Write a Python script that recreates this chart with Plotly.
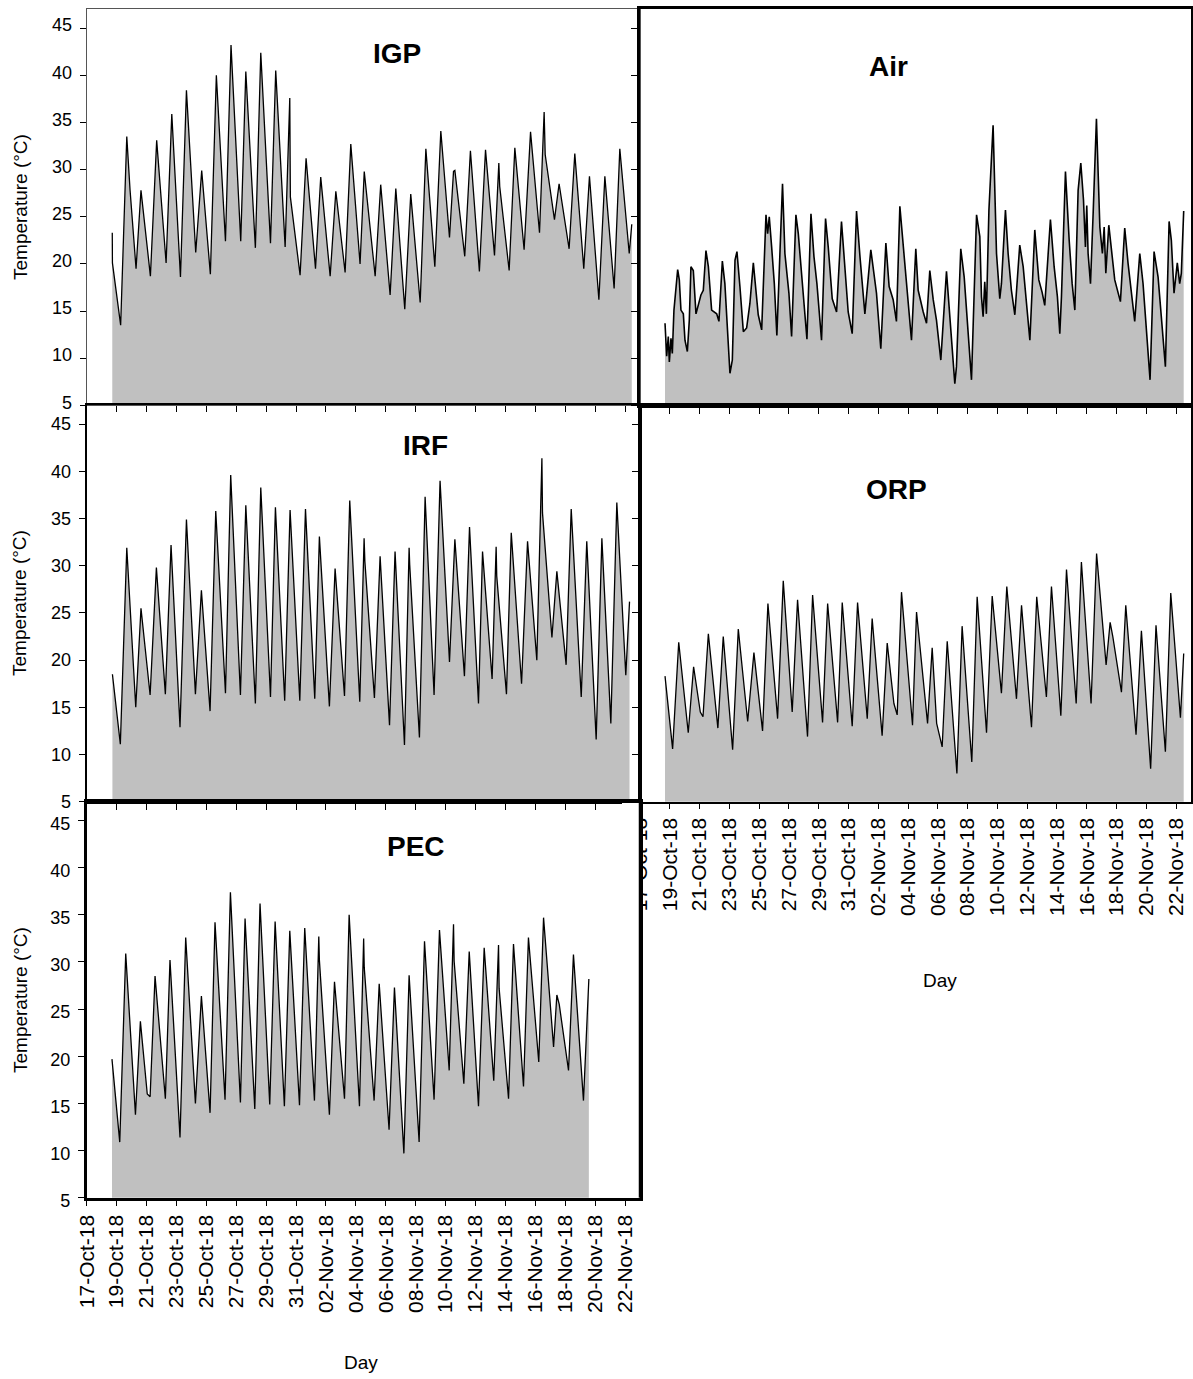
import pandas as pd
import plotly.graph_objects as go

# ---------------------------------------------------------------------------
# Hourly temperature records, 18 Oct - 22 Nov 2018.
# Times are given in days since 17-Oct-2018 00:00, values in degC.
# ---------------------------------------------------------------------------
START = pd.Timestamp("2018-10-17")

igp_day = [1.71, 1.72, 2.27, 2.68, 2.90, 3.30, 3.63, 4.26, 4.68, 5.31, 5.69, 6.27, 6.67, 7.29,
           7.69, 8.27, 8.67, 9.28, 9.65, 10.30, 10.64, 11.28, 11.64, 12.29, 12.64, 13.27, 13.58,
           13.62, 14.27, 14.67, 15.30, 15.65, 16.28, 16.66, 17.28, 17.66, 18.28, 18.56, 18.62,
           19.29, 19.66, 20.29, 20.67, 21.27, 21.67, 22.30, 22.68, 23.28, 23.68, 24.26, 24.53,
           24.62, 25.28, 25.66, 26.26, 26.67, 27.27, 27.56, 27.62, 28.25, 28.63, 29.25, 29.68,
           30.28, 30.59, 30.66, 31.28, 31.59, 32.26, 32.64, 33.24, 33.62, 34.25, 34.65, 35.27,
           35.65, 36.28, 36.45]
igp_temp = [23.3, 20.1, 13.5, 33.5, 27.8, 19.5, 27.8, 18.7, 33.1, 20.1, 35.9, 18.6, 38.4, 21.2,
            29.9, 18.9, 40.0, 22.4, 43.2, 22.4, 40.4, 21.7, 42.4, 22.2, 40.5, 21.8, 37.6,
            27.1, 18.8, 31.2, 19.5, 29.2, 18.7, 27.7, 19.1, 32.7, 20.0, 29.8, 28.9,
            18.7, 28.4, 16.7, 28.0, 15.2, 27.4, 15.9, 32.2, 19.7, 34.1, 22.8, 29.8,
            29.9, 20.8, 32.0, 19.2, 32.1, 20.9, 30.7, 28.2, 19.3, 32.3, 21.5, 34.0,
            23.3, 36.1, 31.6, 24.7, 28.5, 21.6, 31.7, 19.5, 29.3, 16.2, 29.3, 17.4,
            32.2, 21.1, 24.2]

air_day = [1.68, 1.79, 1.90, 1.97, 2.08, 2.17, 2.28, 2.53, 2.64, 2.75, 2.91, 3.02, 3.18, 3.31,
           3.42, 3.58, 3.76, 3.92, 4.09, 4.25, 4.43, 4.59, 4.81, 5.15, 5.30, 5.53, 5.70, 6.04,
           6.20, 6.38, 6.51, 6.71, 6.94, 7.16, 7.38, 7.61, 7.76, 7.94, 8.17, 8.46, 8.57, 8.68,
           8.84, 9.02, 9.19, 9.35, 9.57, 9.73, 9.89, 10.00, 10.18, 10.47, 10.63, 10.85, 11.21,
           11.48, 11.68, 11.88, 12.19, 12.46, 12.64, 12.91, 13.20, 13.53, 13.76, 13.98, 14.25,
           14.54, 14.77, 15.10, 15.50, 15.61, 15.88, 16.17, 16.51, 16.73, 17.00, 17.22, 17.45,
           17.74, 17.96, 18.23, 18.52, 18.68, 19.02, 19.24, 19.46, 19.69, 19.91, 20.20, 20.58,
           20.87, 21.14, 21.25, 21.54, 21.77, 22.04, 22.26, 22.60, 22.82, 22.93, 23.04, 23.15,
           23.26, 23.43, 23.71, 23.94, 24.16, 24.27, 24.54, 24.72, 24.94, 25.17, 25.50, 25.73,
           26.18, 26.51, 26.78, 27.00, 27.18, 27.56, 27.81, 28.03, 28.19, 28.30, 28.57, 28.82,
           29.02, 29.20, 29.42, 29.60, 29.78, 29.91, 30.00, 30.09, 30.25, 30.43, 30.65, 30.88,
           31.05, 31.17, 31.28, 31.48, 31.70, 31.88, 32.26, 32.55, 32.77, 33.22, 33.56, 33.78,
           34.25, 34.52, 34.79, 35.01, 35.28, 35.53, 35.68, 35.86, 36.08, 36.24, 36.35, 36.51]
air_temp = [13.7, 10.2, 12.3, 9.6, 12.1, 10.5, 15.1, 19.4, 18.3, 15.1, 14.7, 11.9, 10.7, 14.0,
            19.7, 19.3, 14.7, 15.6, 16.7, 17.2, 21.4, 19.7, 15.1, 14.7, 13.9, 20.3, 17.9, 8.4,
            9.8, 20.4, 21.3, 17.6, 12.8, 13.2, 15.8, 20.1, 17.2, 14.6, 13.0, 25.2, 23.2, 25.0,
            21.8, 17.9, 12.4, 20.1, 28.5, 21.1, 18.3, 16.9, 12.3, 25.2, 23.2, 18.6, 12.0,
            25.3, 20.8, 17.9, 11.9, 24.8, 21.8, 16.3, 14.9, 24.5, 19.7, 14.9, 12.6,
            25.6, 20.8, 14.7, 21.5, 20.1, 16.9, 11.0, 22.2, 17.6, 16.2, 13.9, 26.1,
            20.8, 16.9, 11.9, 21.6, 17.2, 14.9, 13.7, 19.3, 16.2, 14.0, 9.8, 19.2,
            13.3, 7.3, 9.1, 21.6, 18.6, 12.6, 7.7, 25.2, 22.9, 16.5, 14.4, 18.1,
            14.7, 25.7, 34.7, 21.1, 16.3, 17.9, 25.7, 21.1, 17.2, 14.6, 22.0, 19.7,
            11.9, 23.6, 18.3, 17.0, 15.6, 24.7, 19.7, 16.5, 12.6, 16.5, 29.8, 22.5,
            17.9, 15.1, 27.8, 30.7, 26.8, 21.8, 26.2, 21.1, 17.9, 25.4, 35.4, 23.9,
            21.1, 23.9, 19.0, 24.1, 21.1, 18.3, 16.0, 23.8, 20.1, 13.9, 21.1, 17.9,
            7.7, 21.3, 18.6, 14.4, 9.1, 24.5, 22.5, 16.9, 20.1, 17.9, 19.0, 25.6]

irf_day = [1.72, 2.25, 2.68, 3.28, 3.63, 4.24, 4.66, 5.26, 5.64, 6.24, 6.67, 7.27, 7.67, 8.25,
           8.63, 9.28, 9.63, 10.28, 10.64, 11.28, 11.64, 12.29, 12.62, 13.24, 13.60, 14.25,
           14.63, 15.25, 15.56, 16.23, 16.61, 17.24, 17.59, 18.26, 18.55, 18.60, 19.24, 19.62,
           20.25, 20.62, 21.25, 21.56, 21.60, 22.25, 22.63, 23.23, 23.63, 24.26, 24.62, 25.26,
           25.60, 26.20, 26.47, 27.11, 27.38, 27.42, 28.07, 28.39, 29.08, 29.48, 30.10, 30.44,
           30.48, 31.11, 31.44, 32.06, 32.40, 33.07, 33.44, 34.07, 34.45, 35.05, 35.45, 36.05,
           36.30]
irf_temp = [18.5, 11.1, 31.9, 15.0, 25.5, 16.3, 29.8, 16.4, 32.2, 12.9, 34.9, 16.4, 27.4, 14.6,
            35.8, 16.5, 39.6, 16.3, 36.4, 15.4, 38.3, 16.1, 36.2, 15.7, 35.9, 15.7,
            36.0, 15.9, 33.1, 15.1, 29.7, 16.2, 36.9, 15.6, 32.9, 30.5, 16.0, 31.0,
            13.1, 31.5, 11.0, 31.9, 30.1, 11.8, 37.3, 16.3, 39.0, 19.8, 32.8, 18.3,
            34.1, 15.4, 31.5, 18.0, 32.0, 28.9, 16.4, 33.5, 17.5, 32.6, 20.0, 41.4,
            35.6, 22.4, 29.4, 19.5, 36.0, 16.1, 32.6, 11.6, 32.9, 13.3, 36.7, 18.4,
            26.2]

orp_day = [1.68, 2.19, 2.60, 3.24, 3.60, 4.05, 4.23, 4.59, 5.23, 5.59, 6.22, 6.60, 7.23, 7.65,
           8.23, 8.59, 9.24, 9.62, 10.22, 10.58, 11.25, 11.59, 12.26, 12.60, 13.27, 13.58,
           14.25, 14.61, 15.26, 15.59, 16.26, 16.60, 17.05, 17.27, 17.56, 18.30, 18.57, 19.31,
           19.62, 19.92, 20.29, 20.63, 21.28, 21.63, 22.28, 22.64, 23.27, 23.65, 24.27, 24.63,
           25.28, 25.62, 26.29, 26.64, 27.29, 27.63, 28.26, 28.64, 29.29, 29.64, 30.29, 30.66,
           31.30, 31.57, 31.75, 32.33, 32.62, 33.31, 33.67, 34.29, 34.65, 35.28, 35.64, 36.29,
           36.51]
orp_temp = [18.3, 10.6, 21.9, 12.3, 19.3, 14.5, 14.0, 22.8, 12.8, 22.5, 10.5, 23.3, 13.5, 20.8,
            12.5, 26.0, 13.8, 28.4, 14.5, 26.4, 11.9, 26.9, 13.4, 26.0, 13.4, 26.1,
            13.0, 26.1, 13.8, 24.4, 12.0, 21.8, 15.4, 14.2, 27.2, 13.1, 25.1, 13.3,
            21.3, 13.3, 10.8, 22.0, 8.0, 23.6, 9.2, 26.7, 12.3, 26.8, 16.5, 27.8,
            15.9, 25.8, 12.9, 26.7, 16.1, 27.8, 14.1, 29.6, 15.4, 30.4, 15.4, 31.3,
            19.5, 24.0, 22.5, 16.6, 25.8, 12.1, 23.1, 8.5, 23.7, 10.3, 27.1, 13.9,
            20.7]

pec_day = [1.69, 2.21, 2.61, 3.26, 3.59, 4.05, 4.24, 4.57, 5.26, 5.57, 6.24, 6.62, 7.27, 7.67,
           8.25, 8.58, 9.25, 9.61, 10.28, 10.59, 11.24, 11.59, 12.24, 12.60, 13.22, 13.58,
           14.23, 14.58, 15.23, 15.52, 15.56, 16.23, 16.57, 17.24, 17.55, 18.24, 18.52, 18.56,
           19.22, 19.56, 20.22, 20.58, 21.21, 21.56, 22.23, 22.59, 23.23, 23.59, 24.24, 24.53,
           24.57, 25.22, 25.58, 26.20, 26.58, 27.22, 27.54, 27.58, 28.21, 28.54, 29.21, 29.54,
           30.23, 30.55, 31.22, 31.44, 31.60, 32.22, 32.55, 33.22, 33.58]
pec_temp = [19.7, 10.9, 30.9, 13.8, 23.7, 16.0, 15.7, 28.5, 15.5, 30.2, 11.4, 32.6, 15.0, 26.4,
            14.0, 34.2, 15.4, 37.4, 15.1, 34.6, 14.4, 36.2, 14.9, 34.3, 14.7, 33.3,
            14.8, 33.6, 15.3, 32.7, 30.2, 13.8, 27.9, 15.5, 35.0, 14.7, 32.5, 29.4,
            15.3, 27.7, 12.2, 27.3, 9.7, 28.6, 10.9, 32.2, 15.4, 33.4, 18.5, 34.0,
            30.1, 17.1, 31.1, 14.7, 31.5, 17.4, 31.8, 27.2, 15.5, 31.9, 16.8, 32.6,
            19.4, 34.7, 21.0, 26.5, 25.5, 18.5, 30.8, 15.3, 28.2]

# Axis ticks
tick_dates = ["2018-10-17", "2018-10-19", "2018-10-21", "2018-10-23", "2018-10-25",
              "2018-10-27", "2018-10-29", "2018-10-31", "2018-11-02", "2018-11-04",
              "2018-11-06", "2018-11-08", "2018-11-10", "2018-11-12", "2018-11-14",
              "2018-11-16", "2018-11-18", "2018-11-20", "2018-11-22"]
tick_labels = ["17-Oct-18", "19-Oct-18", "21-Oct-18", "23-Oct-18", "25-Oct-18",
               "27-Oct-18", "29-Oct-18", "31-Oct-18", "02-Nov-18", "04-Nov-18",
               "06-Nov-18", "08-Nov-18", "10-Nov-18", "12-Nov-18", "14-Nov-18",
               "16-Nov-18", "18-Nov-18", "20-Nov-18", "22-Nov-18"]
temp_ticks = [5, 10, 15, 20, 25, 30, 35, 40, 45]

FONT = "Arial, 'Liberation Sans', sans-serif"
W, H = 1193, 1379


def px_x(p):
    return p / W


def px_y(p):
    return 1 - p / H


COL_L = [px_x(86.7), px_x(640)]
COL_R = [px_x(640), px_x(1191)]
ROW1 = [px_y(405.3), px_y(9.3)]
ROW2 = [px_y(801.7), px_y(405.3)]
ROW3 = [px_y(1197.7), px_y(801.7)]

# name, times, values, axis suffix, x-domain, y-domain, frame colour, frame width,
# show date labels, show temperature labels, label shift, data line width
panels = [
    ("IGP", igp_day, igp_temp, "", COL_L, ROW1, "#555555", 1.3, False, True, -3, 1.3),
    ("Air", air_day, air_temp, "2", COL_R, ROW1, "black", 2.5, False, False, 0, 1.6),
    ("IRF", irf_day, irf_temp, "3", COL_L, ROW2, "black", 2.0, False, True, 0, 1.3),
    ("ORP", orp_day, orp_temp, "4", COL_R, ROW2, "black", 1.5, True, False, 0, 1.3),
    ("PEC", pec_day, pec_temp, "5", COL_L, ROW3, "black", 2.5, True, True, 3, 1.3),
]

fig = go.Figure()
layout_axes = {}
x_end = START + pd.Timedelta(days=37)

for (name, days, temps, sfx, xdom, ydom, fcol, fw,
     show_dates, show_temps, shift, lw) in panels:
    times = START + pd.to_timedelta(pd.Series(days), unit="D")
    fig.add_trace(go.Scatter(
        x=times, y=temps, mode="lines", name=name,
        line=dict(color="black", width=lw),
        fill="tozeroy", fillcolor="#c0c0c0",
        xaxis="x" + sfx, yaxis="y" + sfx, showlegend=False,
    ))
    layout_axes["xaxis" + sfx] = dict(
        domain=xdom, anchor="y" + sfx, type="date", automargin=False,
        range=[START, x_end], tickmode="array",
        tickvals=tick_dates, ticktext=tick_labels,
        showticklabels=show_dates, tickangle=-90,
        tickfont=dict(family=FONT, size=21, color="black"),
        ticks="outside", ticklen=6, tickwidth=1, tickcolor="black",
        showgrid=False, zeroline=False,
        showline=True, mirror=True, linecolor=fcol, linewidth=fw,
    )
    layout_axes["yaxis" + sfx] = dict(
        domain=ydom, anchor="x" + sfx, range=[5, 47], automargin=False,
        tickmode="array", tickvals=temp_ticks,
        showticklabels=show_temps, ticklabelstandoff=4, ticklabelshift=shift,
        tickfont=dict(family=FONT, size=18, color="black"),
        ticks="outside", ticklen=6, tickwidth=1, tickcolor="black",
        showgrid=False, zeroline=False,
        showline=True, mirror=True, linecolor=fcol, linewidth=fw,
    )

annotations = []
# panel names
for text, cx, cy in [("IGP", 397, 53), ("Air", 888, 67), ("IRF", 425, 445),
                     ("ORP", 896, 490), ("PEC", 416, 847)]:
    annotations.append(dict(
        text=f"<b>{text}</b>", x=px_x(cx), y=px_y(cy), xref="paper", yref="paper",
        showarrow=False, xanchor="center", yanchor="middle",
        font=dict(family=FONT, size=28, color="black"),
    ))
# y-axis titles
for cy in [207, 603, 1000]:
    annotations.append(dict(
        text="Temperature (°C)", x=px_x(20), y=px_y(cy), xref="paper", yref="paper",
        showarrow=False, textangle=-90, xanchor="center", yanchor="middle",
        font=dict(family=FONT, size=19, color="black"),
    ))
# x-axis titles
for cx, cy in [(361, 1362), (940, 980)]:
    annotations.append(dict(
        text="Day", x=px_x(cx), y=px_y(cy), xref="paper", yref="paper",
        showarrow=False, xanchor="center", yanchor="middle",
        font=dict(family=FONT, size=19, color="black"),
    ))

shapes = [
    # the PEC frame sits on top of the first date label of the ORP axis
    dict(type="rect", xref="paper", yref="paper", layer="above",
         x0=px_x(622), x1=px_x(639), y0=px_y(935), y1=px_y(803),
         fillcolor="white", line=dict(width=0)),
    dict(type="line", xref="paper", yref="paper", layer="above",
         x0=px_x(640), x1=px_x(640), y0=ROW3[0], y1=ROW3[1],
         line=dict(color="black", width=2.5)),
]

fig.update_layout(
    width=W, height=H,
    margin=dict(l=0, r=0, t=0, b=0, autoexpand=False),
    paper_bgcolor="white", plot_bgcolor="rgba(0,0,0,0)",
    font=dict(family=FONT, color="black"),
    annotations=annotations, shapes=shapes,
    **layout_axes,
)

fig.write_html("out.html")
